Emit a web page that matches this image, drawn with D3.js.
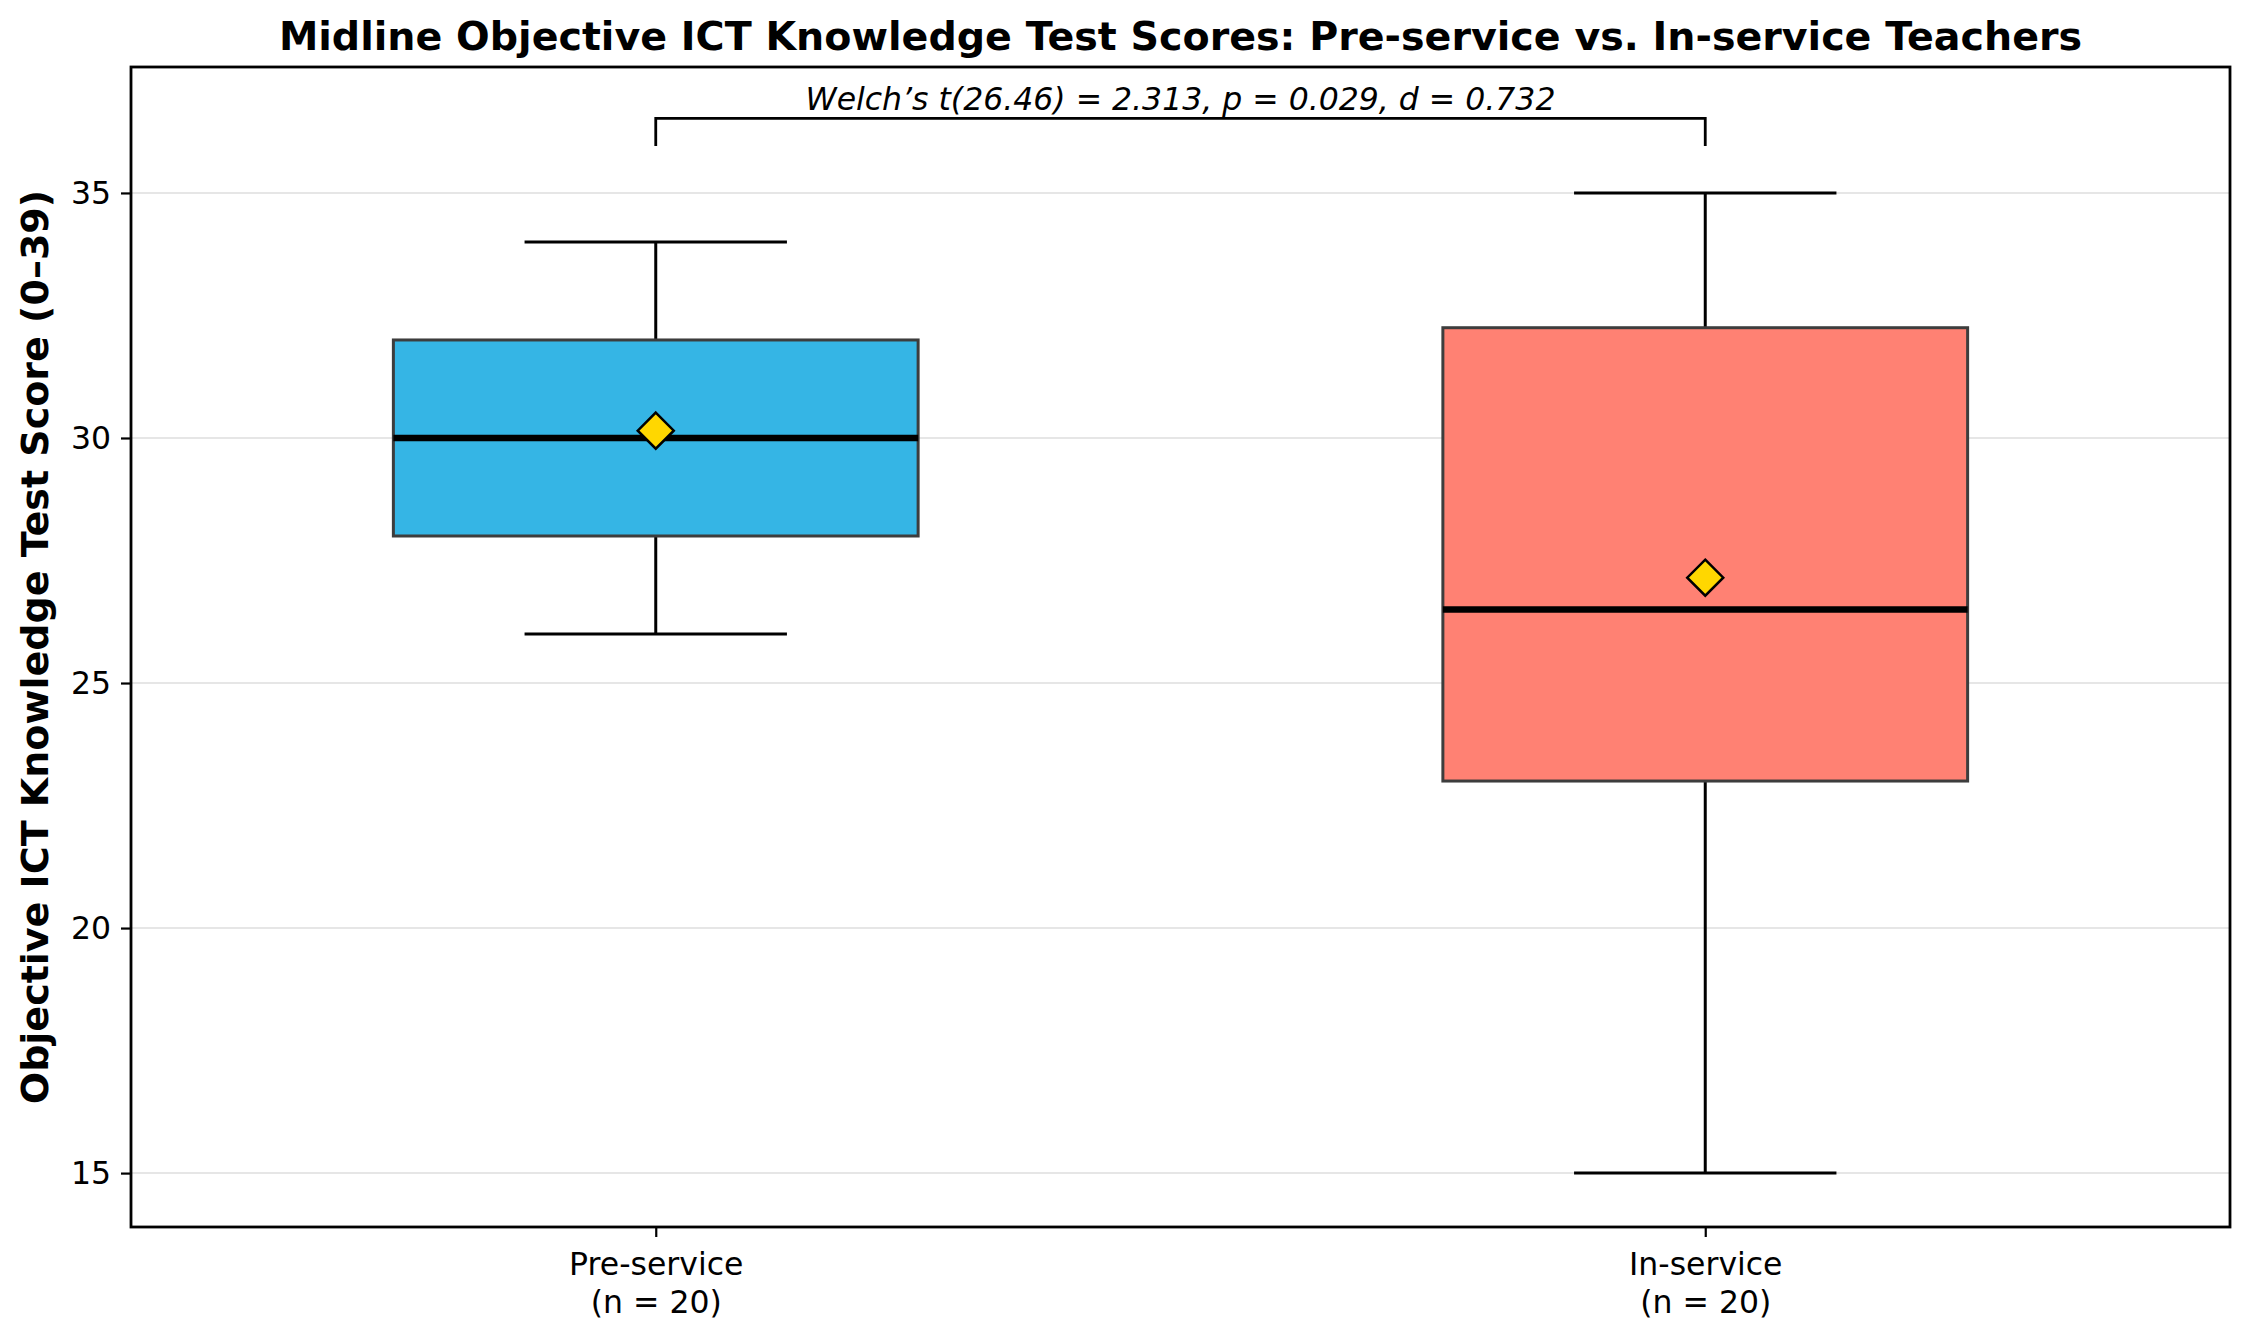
<!DOCTYPE html>
<html>
<head>
<meta charset="utf-8">
<script src="https://cdn.jsdelivr.net/npm/d3@7"></script>
<style>
  body { margin: 0; background: #fff; }
  svg { display: block; font-family: "DejaVu Sans", sans-serif; }
</style>
</head>
<body>
<div id="chart"></div>
<script>
// values
const groups = ["Pre-service", "In-service"];
const groupN = [20, 20];
const whiskerLow = [26, 15];
const q1 = [28, 23];
const median = [30, 26.5];
const q3 = [32, 32.25];
const whiskerHigh = [34, 35];
const means = [30.15, 27.15];
const yTicks = [15, 20, 25, 30, 35];
const boxColors = ["#35B5E5", "#FF8173"];
const statText = "Welch\u2019s t(26.46) = 2.313, p = 0.029, d = 0.732";

const W = 2254, H = 1330;
const margin = { top: 67, right: 24, bottom: 103, left: 131 };

const svg = d3.select("#chart")
  .append("svg")
  .attr("width", W)
  .attr("height", H);

const x = d3.scaleLinear()
  .domain([0.5, 2.5])
  .range([margin.left, W - margin.right]);

const y = d3.scaleLinear()
  .domain([13.9, 37.57])
  .range([H - margin.bottom, margin.top]);

const unit = x(1) - x(0.5);   // pixels per half position
const boxHalf = unit / 2;      // box width 0.5
const capHalf = unit / 4;      // cap width 0.25

// grid
svg.append("g")
  .selectAll("line")
  .data(yTicks)
  .enter().append("line")
  .attr("x1", x(0.5))
  .attr("x2", x(2.5))
  .attr("y1", d => y(d))
  .attr("y2", d => y(d))
  .attr("stroke", "#e6e6e6")
  .attr("stroke-width", 2);

// boxes
const data = groups.map((g, i) => ({
  pos: i + 1, lo: whiskerLow[i], q1: q1[i], med: median[i],
  q3: q3[i], hi: whiskerHigh[i], mean: means[i], color: boxColors[i]
}));

const box = svg.append("g")
  .selectAll("g")
  .data(data)
  .enter().append("g");

// whiskers
box.append("line")
  .attr("x1", d => x(d.pos)).attr("x2", d => x(d.pos))
  .attr("y1", d => y(d.q3)).attr("y2", d => y(d.hi))
  .attr("stroke", "#000").attr("stroke-width", 3);
box.append("line")
  .attr("x1", d => x(d.pos)).attr("x2", d => x(d.pos))
  .attr("y1", d => y(d.q1)).attr("y2", d => y(d.lo))
  .attr("stroke", "#000").attr("stroke-width", 3);
// caps
box.append("line")
  .attr("x1", d => x(d.pos) - capHalf).attr("x2", d => x(d.pos) + capHalf)
  .attr("y1", d => y(d.hi)).attr("y2", d => y(d.hi))
  .attr("stroke", "#000").attr("stroke-width", 3);
box.append("line")
  .attr("x1", d => x(d.pos) - capHalf).attr("x2", d => x(d.pos) + capHalf)
  .attr("y1", d => y(d.lo)).attr("y2", d => y(d.lo))
  .attr("stroke", "#000").attr("stroke-width", 3);

box.append("rect")
  .attr("x", d => x(d.pos) - boxHalf)
  .attr("width", boxHalf * 2)
  .attr("y", d => y(d.q3))
  .attr("height", d => y(d.q1) - y(d.q3))
  .attr("fill", d => d.color)
  .attr("stroke", "#3d3d3d")
  .attr("stroke-width", 3);

// median
box.append("line")
  .attr("x1", d => x(d.pos) - boxHalf).attr("x2", d => x(d.pos) + boxHalf)
  .attr("y1", d => y(d.med)).attr("y2", d => y(d.med))
  .attr("stroke", "#000").attr("stroke-width", 6.5);

// mean diamond
const dm = 18;
box.append("path")
  .attr("d", d => {
    const cx = x(d.pos), cy = y(d.mean);
    return `M${cx},${cy - dm}L${cx + dm},${cy}L${cx},${cy + dm}L${cx - dm},${cy}Z`;
  })
  .attr("fill", "#FFD700")
  .attr("stroke", "#000")
  .attr("stroke-width", 2.5);

// significance bracket
const br = svg.append("g");
br.append("path")
  .attr("d", `M${x(1)},${y(35.96)}V${y(36.52)}H${x(2)}V${y(35.96)}`)
  .attr("fill", "none")
  .attr("stroke", "#000")
  .attr("stroke-width", 2.8);
br.append("text")
  .attr("x", (x(1) + x(2)) / 2)
  .attr("y", y(36.7))
  .attr("text-anchor", "middle")
  .attr("font-style", "italic")
  .attr("font-size", 31.5)
  .attr("fill", "#000")
  .text(statText);

// axes
const yAxis = svg.append("g")
  .attr("transform", `translate(${margin.left},0)`)
  .call(d3.axisLeft(y).tickValues(yTicks).tickSize(10).tickPadding(10));
yAxis.select(".domain").remove();
yAxis.selectAll(".tick line").attr("stroke-width", 2.2);
yAxis.selectAll(".tick text")
  .attr("font-size", 31.5)
  .attr("font-family", "DejaVu Sans")
  .attr("fill", "#000");

const xAxis = svg.append("g")
  .attr("transform", `translate(0,${H - margin.bottom})`)
  .call(d3.axisBottom(x).tickValues([1, 2]).tickSize(10).tickPadding(16).tickFormat(""));
xAxis.select(".domain").remove();
xAxis.selectAll(".tick line").attr("stroke-width", 2.2);
xAxis.selectAll(".tick text")
  .attr("font-size", 31.5)
  .attr("font-family", "DejaVu Sans")
  .attr("fill", "#000")
  .each(function(d) {
    const t = d3.select(this);
    const i = d - 1;
    t.append("tspan").attr("x", 0).attr("dy", "0.71em").text(groups[i]);
    t.append("tspan").attr("x", 0).attr("dy", "1.2em").text(`(n = ${groupN[i]})`);
  })
  .attr("dy", null);

// frame
svg.append("rect")
  .attr("x", x(0.5))
  .attr("y", y(37.57))
  .attr("width", x(2.5) - x(0.5))
  .attr("height", y(13.9) - y(37.57))
  .attr("fill", "none")
  .attr("stroke", "#000")
  .attr("stroke-width", 2.8);

// title and y label
svg.append("text")
  .attr("x", (x(0.5) + x(2.5)) / 2)
  .attr("y", 50)
  .attr("text-anchor", "middle")
  .attr("font-weight", "bold")
  .attr("font-size", 39.6)
  .text("Midline Objective ICT Knowledge Test Scores: Pre-service vs. In-service Teachers");

svg.append("text")
  .attr("transform", `translate(48,${(y(13.9) + y(37.57)) / 2}) rotate(-90)`)
  .attr("text-anchor", "middle")
  .attr("font-weight", "bold")
  .attr("font-size", 38)
  .text("Objective ICT Knowledge Test Score (0\u201339)");
</script>
</body>
</html>
